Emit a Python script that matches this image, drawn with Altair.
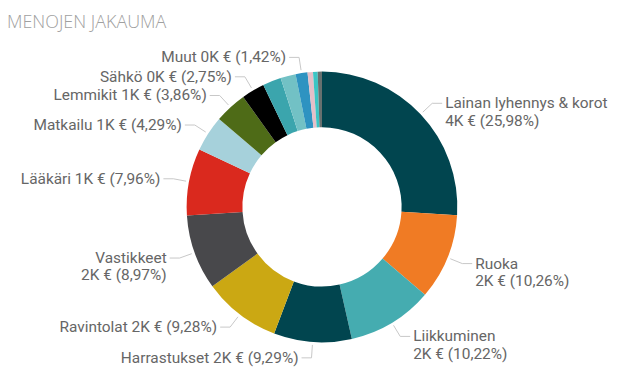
import altair as alt
import pandas as pd

# ---- data ----
categories = [
    "Lainan lyhennys & korot", "Ruoka", "Liikkuminen", "Harrastukset",
    "Ravintolat", "Vastikkeet", "Lääkäri", "Matkailu", "Lemmikit", "Sähkö",
    "Muu luokka 1", "Muu luokka 2", "Muut", "Muu luokka 3", "Muu luokka 4",
    "Muu luokka 5",
]
shares = [25.98, 10.26, 10.22, 9.29, 9.28, 8.97, 7.96, 4.29, 3.86, 2.75,
          2.20, 1.81, 1.42, 0.65, 0.55, 0.51]
labels = [
    "Lainan lyhennys & korot\n4K € (25,98%)",
    "Ruoka\n2K € (10,26%)",
    "Liikkuminen\n2K € (10,22%)",
    "Harrastukset 2K € (9,29%)",
    "Ravintolat 2K € (9,28%)",
    "Vastikkeet\n2K € (8,97%)",
    "Lääkäri 1K € (7,96%)",
    "Matkailu 1K € (4,29%)",
    "Lemmikit 1K € (3,86%)",
    "Sähkö 0K € (2,75%)",
    "", "",
    "Muut 0K € (1,42%)",
    "", "", "",
]
colors = ["#01454F", "#F07B24", "#45ACB0", "#01454F", "#CBA813", "#48484B",
          "#DA291E", "#A6D1DB", "#4E6B17", "#000000", "#3BA5AD", "#72C1C5",
          "#2E93C1", "#E5BFC8", "#3CC5C4", "#67706F"]

df = pd.DataFrame({
    "idx": list(range(len(categories))),
    "category": categories,
    "share": shares,
    "label": labels,
})

PAD_TOP = 30
W, H = 631, 338
CX, CY = W / 2, H / 2
R_IN, R_OUT = 80, 136
R0, R1 = 139, 152   # leader line start / elbow radius
HSEG, GAP = 10, 3

FONT = "Roboto"

arcs = alt.Chart(df).mark_arc(innerRadius=R_IN, outerRadius=R_OUT).encode(
    theta=alt.Theta("share:Q", stack=True),
    order=alt.Order("idx:Q", sort="ascending"),
    color=alt.Color("category:N", scale=alt.Scale(domain=categories, range=colors), legend=None),
)

geo = (
    alt.Chart(df)
    .transform_joinaggregate(total="sum(share)")
    .transform_window(cum="sum(share)", sort=[alt.SortField("idx", order="ascending")], frame=[None, 0])
    .transform_calculate(mid="2*PI*(datum.cum - datum.share/2)/datum.total")
    .transform_calculate(
        side="sin(datum.mid) >= 0 ? 1 : -1",
        x0=f"{CX} + {R0}*sin(datum.mid)",
        y0=f"{CY} - {R0}*cos(datum.mid)",
        x1=f"{CX} + {R1}*sin(datum.mid)",
        y1=f"{CY} - {R1}*cos(datum.mid)",
    )
    .transform_calculate(
        x2=f"datum.x1 + datum.side*{HSEG}",
        tx=f"datum.x1 + datum.side*{HSEG + GAP}",
    )
    .transform_filter("datum.label != ''")
)

line_color = "#C8C8C8"
radial = geo.mark_rule(color=line_color, strokeWidth=1).encode(
    x=alt.X("x0:Q", scale=None, axis=None), y=alt.Y("y0:Q", scale=None, axis=None),
    x2="x1:Q", y2="y1:Q",
)
horiz = geo.mark_rule(color=line_color, strokeWidth=1).encode(
    x=alt.X("x1:Q", scale=None, axis=None), y=alt.Y("y1:Q", scale=None, axis=None),
    x2="x2:Q",
)

text_kw = dict(font=FONT, fontSize=15.5, color="#666666", baseline="middle", lineBreak="\n", lineHeight=17.5)
right_text = geo.transform_filter("datum.side > 0").mark_text(align="left", **text_kw).encode(
    x=alt.X("tx:Q", scale=None, axis=None), y=alt.Y("y1:Q", scale=None, axis=None), text="label:N",
)
left_text = geo.transform_filter("datum.side < 0").mark_text(align="right", **text_kw).encode(
    x=alt.X("tx:Q", scale=None, axis=None), y=alt.Y("y1:Q", scale=None, axis=None), text="label:N",
)

chart = (
    alt.layer(arcs, radial, horiz, right_text, left_text)
    .properties(
        width=W, height=H,
        title=alt.TitleParams("MENOJEN JAKAUMA", anchor="start", font="Open Sans", fontSize=18,
                              fontWeight=300, color="#A0A0A0", offset=7, dx=-1),
        autosize=alt.AutoSizeParams(type="none"),
        padding={"left": 0, "top": PAD_TOP, "right": 0, "bottom": 0},
    )
    .configure_view(stroke=None)
)

chart.save("out.html", embed_options={"renderer": "svg", "actions": False})
